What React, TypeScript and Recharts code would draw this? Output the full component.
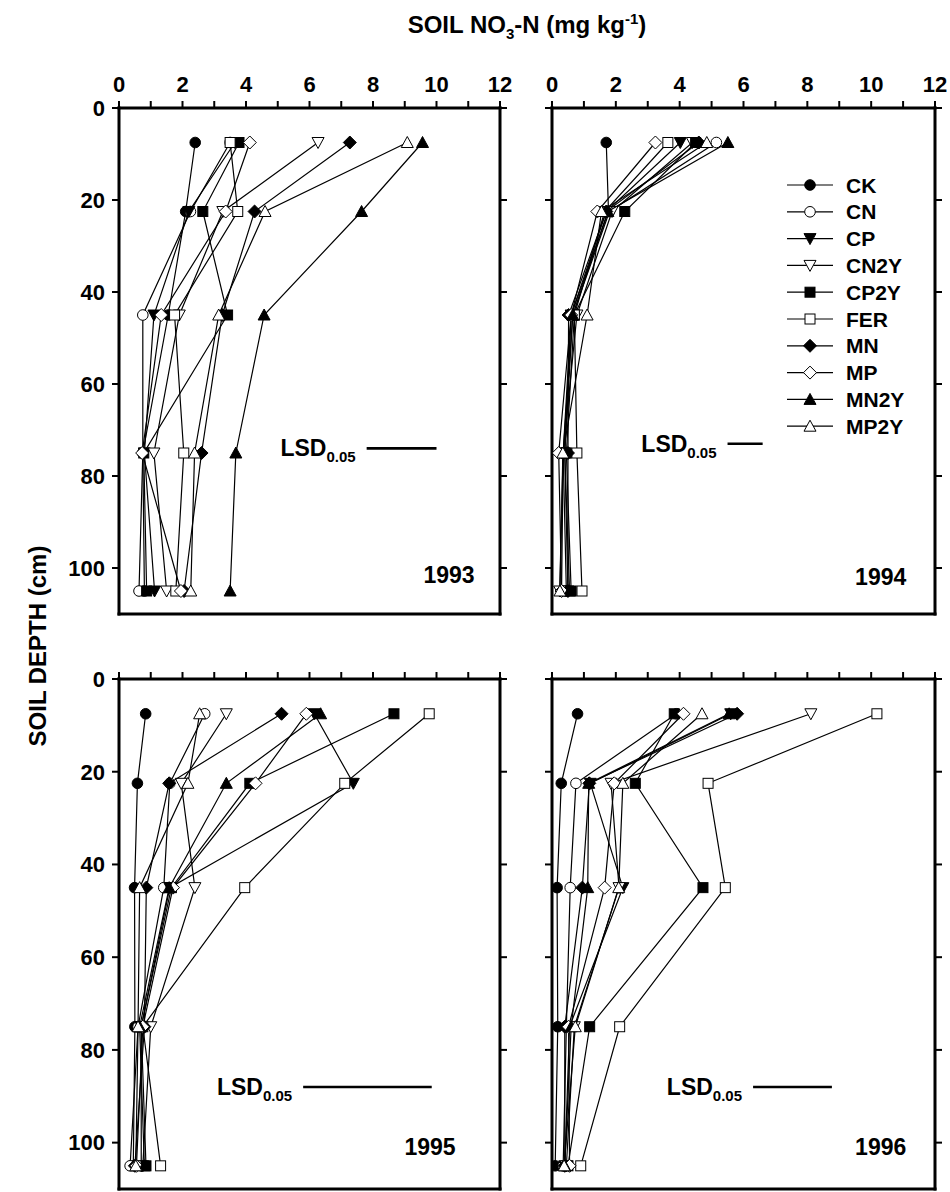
import React from 'react';
import { ScatterChart, Scatter, XAxis, YAxis, ReferenceLine, ReferenceDot } from 'recharts';

const FONT = "'Liberation Sans', Arial, Helvetica, sans-serif";

const DEPTHS = [7.5, 22.5, 45, 75, 105];
const TREATMENTS = ['CK', 'CN', 'CP', 'CN2Y', 'CP2Y', 'FER', 'MN', 'MP', 'MN2Y', 'MP2Y'];
const MARKERS = ['circle-f', 'circle-o', 'tridown-f', 'tridown-o', 'square-f', 'square-o', 'diamond-f', 'diamond-o', 'triup-f', 'triup-o'];
const X_TICKS = [0, 1, 2, 3, 4, 5, 6, 7, 8, 9, 10, 11, 12];
const X_LABELED = [0, 2, 4, 6, 8, 10, 12];
const DEPTH_TICKS = [0, 20, 40, 60, 80, 100];

// rows follow TREATMENTS order; columns follow DEPTHS
const NO3_1993 = [
  [2.4, 2.1, 1.55, 0.75, 0.8],
  [3.5, 2.25, 0.75, 0.75, 0.63],
  [3.65, 2.2, 1.1, 0.8, 1.12],
  [6.27, 3.27, 1.9, 1.1, 1.5],
  [3.78, 2.64, 3.42, 0.78, 0.87],
  [3.5, 3.74, 1.75, 2.04, 1.79],
  [7.27, 4.27, 3.25, 2.6, 2.05],
  [4.12, 3.36, 1.33, 0.73, 1.95],
  [9.56, 7.64, 4.57, 3.68, 3.5],
  [9.08, 4.6, 3.14, 2.38, 2.26],
];
const NO3_1994 = [
  [1.7, 1.77, 0.6, 0.35, 0.45],
  [5.15, 1.8, 0.65, 0.35, 0.3],
  [4.02, 1.7, 0.6, 0.4, 0.5],
  [4.4, 1.88, 0.78, 0.35, 0.24],
  [4.5, 2.28, 0.7, 0.45, 0.6],
  [3.63, 1.65, 0.7, 0.78, 0.94],
  [4.6, 1.7, 0.52, 0.5, 0.5],
  [3.24, 1.42, 0.6, 0.21, 0.3],
  [5.51, 1.75, 0.65, 0.4, 0.55],
  [4.85, 1.55, 1.1, 0.34, 0.25],
];
const NO3_1995 = [
  [0.84, 0.58, 0.49, 0.5, 0.45],
  [2.7, 1.6, 1.41, 0.6, 0.35],
  [6.15, 7.38, 1.6, 0.7, 0.7],
  [3.38, 1.96, 2.39, 1.0, 0.75],
  [8.66, 4.12, 1.65, 0.7, 0.85],
  [9.77, 7.11, 3.96, 0.75, 1.31],
  [5.12, 1.58, 0.86, 0.8, 0.5],
  [5.9, 4.3, 1.7, 0.75, 0.55],
  [6.35, 3.38, 1.58, 0.65, 0.8],
  [2.54, 2.17, 0.65, 0.6, 0.53],
];
const NO3_1996 = [
  [0.8, 0.29, 0.16, 0.18, 0.1],
  [3.9, 0.75, 0.57, 0.45, 0.35],
  [5.6, 1.2, 2.22, 0.55, 0.4],
  [8.11, 1.85, 2.1, 0.7, 0.45],
  [3.83, 2.61, 4.73, 1.18, 0.5],
  [10.18, 4.89, 5.43, 2.12, 0.9],
  [5.8, 1.17, 0.95, 0.4, 0.4],
  [4.12, 1.95, 1.65, 0.52, 0.55],
  [5.55, 1.15, 1.12, 0.6, 0.4],
  [4.7, 2.22, 2.09, 0.73, 0.38],
];

const YEARS = ['1993', '1994', '1995', '1996'];
const YEAR_POS = [[11.2, 101.5], [11.1, 102], [10.6, 101], [11.1, 101]];
const LSD_RANGES = [[7.8, 10.0], [5.5, 6.6], [5.8, 9.85], [6.3, 8.77]];
const LSD_DEPTHS = [74, 73, 88, 88];

function Marker({ kind, cx, cy }: { kind: string; cx: number; cy: number }) {
  if (cx == null || cy == null) return null;
  const [shape, ft] = kind.split('-');
  const fill = ft === 'f' ? '#000' : '#fff';
  const c = { fill, stroke: '#000', strokeWidth: 1 };
  switch (shape) {
    case 'circle':
      return <circle cx={cx} cy={cy} r={5.3} {...c} />;
    case 'square':
      return <rect x={cx - 5} y={cy - 5} width={10} height={10} {...c} />;
    case 'diamond':
      return <polygon points={`${cx},${cy - 6.5} ${cx + 6.5},${cy} ${cx},${cy + 6.5} ${cx - 6.5},${cy}`} {...c} />;
    case 'tridown':
      return <polygon points={`${cx - 6},${cy - 5} ${cx + 6},${cy - 5} ${cx},${cy + 6}`} {...c} />;
    case 'triup':
      return <polygon points={`${cx - 6},${cy + 5} ${cx + 6},${cy + 5} ${cx},${cy - 6}`} {...c} />;
    default:
      return null;
  }
}

const tickFont = { fill: '#000', fontSize: 22, fontWeight: 'bold', fontFamily: FONT };
const axisLineStyle = { stroke: '#000', strokeWidth: 3, strokeLinecap: 'square' as const };
const tickLineStyle = { stroke: '#000', strokeWidth: 2 };

type PanelProps = {
  x: number; y: number; w: number; h: number;
  data: number[][];
  idx: number;
  showX: boolean; showY: boolean;
};

function Panel({ x, y, w, h, data, idx, showX, showY }: PanelProps) {
  const ML = 70, MT = 60, MR = 20, MB = 20;
  const AXW = 55, AXH = 40, RW = 12, BH = 12;
  const lsd = LSD_RANGES[idx];
  const lsdDepth = LSD_DEPTHS[idx];
  const [yx, yy] = YEAR_POS[idx];
  return (
    <div style={{ position: 'absolute', left: x - ML, top: y - MT }}>
      <ScatterChart
        width={w + ML + MR}
        height={h + MT + MB}
        margin={{ top: MT - AXH, left: ML - AXW, right: MR - RW, bottom: MB - BH }}
      >
        <XAxis
          xAxisId="t" orientation="top" type="number" dataKey="x"
          domain={[0, 12]} allowDataOverflow ticks={X_TICKS} interval={0}
          height={AXH} tickSize={7} tickMargin={9}
          axisLine={axisLineStyle} tickLine={tickLineStyle} tick={tickFont}
          tickFormatter={(v: number) => (showX && X_LABELED.includes(v) ? String(v) : '')}
        />
        <XAxis
          xAxisId="b" orientation="bottom" type="number"
          domain={[0, 12]} allowDataOverflow ticks={X_TICKS} interval={0}
          height={BH} tickSize={7}
          axisLine={axisLineStyle} tickLine={tickLineStyle} tick={tickFont}
          tickFormatter={() => ''}
        />
        <YAxis
          yAxisId="l" orientation="left" type="number" dataKey="y"
          domain={[0, 110]} allowDataOverflow reversed ticks={DEPTH_TICKS} interval={0}
          width={AXW} tickSize={7} tickMargin={7}
          axisLine={axisLineStyle} tickLine={tickLineStyle} tick={tickFont}
          tickFormatter={(v: number) => (showY ? String(v) : '')}
        />
        <YAxis
          yAxisId="r" orientation="right" type="number"
          domain={[0, 110]} allowDataOverflow reversed ticks={DEPTH_TICKS} interval={0}
          width={RW} tickSize={7}
          axisLine={axisLineStyle} tickLine={tickLineStyle} tick={tickFont}
          tickFormatter={() => ''}
        />
        {TREATMENTS.map((t, i) => (
          <Scatter
            key={t}
            name={t}
            xAxisId="t"
            yAxisId="l"
            data={DEPTHS.map((d, j) => ({ x: data[i][j], y: d }))}
            line={{ stroke: '#000', strokeWidth: 1.2 }}
            lineType="joint"
            isAnimationActive={false}
            shape={(sp: any) => <Marker kind={MARKERS[i]} cx={sp.cx} cy={sp.cy} />}
          />
        ))}
        <ReferenceLine
          xAxisId="t" yAxisId="l"
          segment={[{ x: lsd[0], y: lsdDepth }, { x: lsd[1], y: lsdDepth }]}
          stroke="#000" strokeWidth={2.6}
          label={(lp: any) => {
            const vb = lp.viewBox || {};
            return (
              <text x={vb.x - 11} y={vb.y + 8} textAnchor="end" fontFamily={FONT} fontWeight="bold" fontSize={23} fill="#000">
                LSD<tspan fontSize={15} dy={6}>0.05</tspan>
              </text>
            );
          }}
        />
        <ReferenceDot
          xAxisId="t" yAxisId="l" x={yx} y={yy} r={0} fill="none" stroke="none"
          label={(lp: any) => {
            const vb = lp.viewBox || {};
            return (
              <text x={vb.x} y={vb.y + 8} textAnchor="end" fontFamily={FONT} fontWeight="bold" fontSize={23} fill="#000">
                {YEARS[idx]}
              </text>
            );
          }}
        />
      </ScatterChart>
    </div>
  );
}

function LegendBox() {
  const left = 780, top = 170;
  return (
    <svg style={{ position: 'absolute', left, top }} width={165} height={270}>
      {TREATMENTS.map((t, i) => {
        const cy = 185 + i * 26.8 - top;
        return (
          <g key={t}>
            <line x1={7} x2={53} y1={cy} y2={cy} stroke="#000" strokeWidth={1.2} />
            <Marker kind={MARKERS[i]} cx={30} cy={cy} />
            <text x={66} y={cy + 7.5} fontFamily={FONT} fontWeight="bold" fontSize={21} fill="#000">{t}</text>
          </g>
        );
      })}
    </svg>
  );
}

export default function App() {
  return (
    <div style={{ position: 'fixed', left: 0, top: 0, width: 950, height: 1192, overflow: 'hidden', background: '#fff' }}>
      <div
        style={{
          position: 'absolute', left: 527, top: 25, transform: 'translate(-50%,-50%)',
          fontFamily: FONT, fontWeight: 'bold', fontSize: 24, whiteSpace: 'nowrap', lineHeight: '28px',
        }}
      >
        SOIL NO<sub style={{ fontSize: 15, lineHeight: 0 }}>3</sub>-N (mg kg<sup style={{ fontSize: 15, lineHeight: 0 }}>-1</sup>)
      </div>
      <div
        style={{
          position: 'absolute', left: 38, top: 646, transform: 'translate(-50%,-50%) rotate(-90deg)',
          fontFamily: FONT, fontWeight: 'bold', fontSize: 24, whiteSpace: 'nowrap',
        }}
      >
        SOIL DEPTH (cm)
      </div>
      <Panel x={119} y={108} w={381} h={506} data={NO3_1993} idx={0} showX showY />
      <Panel x={552} y={108} w={383} h={506} data={NO3_1994} idx={1} showX showY={false} />
      <Panel x={119} y={679} w={381} h={510} data={NO3_1995} idx={2} showX={false} showY />
      <Panel x={552} y={679} w={383} h={510} data={NO3_1996} idx={3} showX={false} showY={false} />
      <LegendBox />
    </div>
  );
}
